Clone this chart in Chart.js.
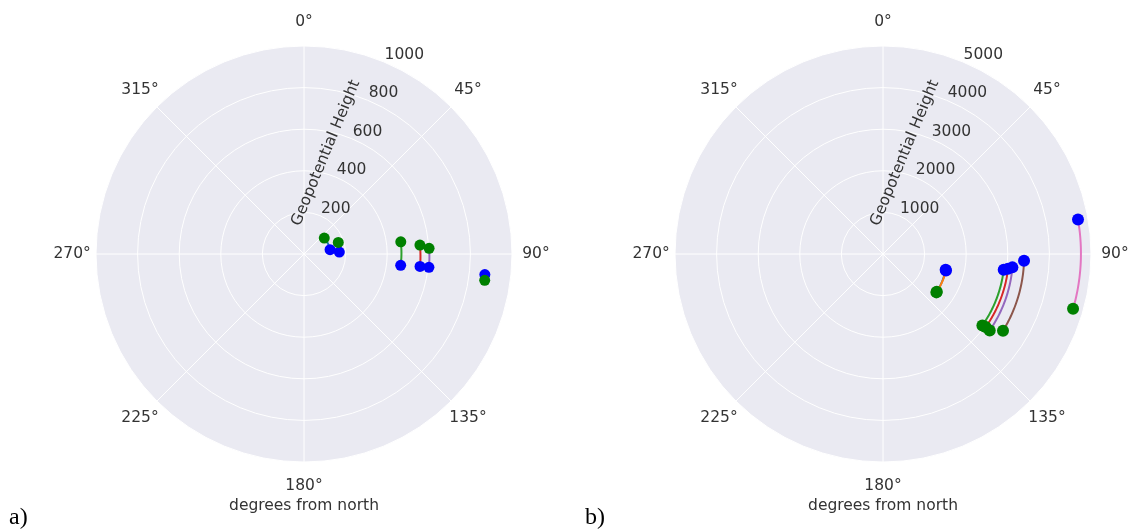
<!DOCTYPE html>
<html>
<head>
<meta charset="utf-8">
<script src="https://cdn.jsdelivr.net/npm/chart.js@4"></script>
<style>
  body { margin: 0; background: #fff; }
  #wrapA { position: absolute; left: 0; top: 0; width: 580px; height: 531px; }
  #wrapB { position: absolute; left: 579px; top: 0; width: 550px; height: 531px; }
</style>
</head>
<body>
<div id="wrapA"><canvas id="chartA"></canvas></div>
<div id="wrapB"><canvas id="chartB"></canvas></div>
<script>
// angle ticks (degrees from north, clockwise)
const angleTicks = [0, 45, 90, 135, 180, 225, 270, 315];
const angleLabels = ['0°', '45°', '90°', '135°', '180°', '225°', '270°', '315°'];

// panel a) : direction (deg) and geopotential height at start (blue) and end (green)
const aDirStart = [80.6, 86.8, 96.7, 96.1, 96.1, 96.5];
const aHgtStart = [127, 170, 468, 561, 604, 875];
const aDirEnd = [51.8, 71.3, 82.8, 85.6, 87.4, 98.3];
const aHgtEnd = [124, 174, 469, 559, 602, 878];
const aRings = [200, 400, 600, 800, 1000];

// panel b)
const bDirStart = [104.1, 104.6, 97.4, 96.7, 95.9, 92.7, 80.0];
const bHgtStart = [1553, 1565, 2926, 3026, 3127, 3394, 4760];
const bDirEnd = [125.7, 125.0, 125.7, 125.4, 125.6, 122.6, 106.1];
const bHgtEnd = [1581, 1578, 2942, 3029, 3155, 3424, 4755];
const bRings = [1000, 2000, 3000, 4000, 5000];

const lineColors = ['#1f77b4', '#ff7f0e', '#2ca02c', '#d62728', '#9467bd', '#8c564b', '#e377c2'];
const textColor = '#333333';

const toXY = (dir, h) => {
    const t = dir * Math.PI / 180;
    return { x: h * Math.sin(t), y: h * Math.cos(t) };
};

const polarFrame = {
    id: 'polarFrame',
    beforeDatasetsDraw(chart, args, opts) {
        const { ctx, scales: { x, y } } = chart;
        const cx = x.getPixelForValue(0), cy = y.getPixelForValue(0);
        const R = x.getPixelForValue(opts.rMax) - cx;
        ctx.save();
        ctx.fillStyle = '#eaeaf2';
        ctx.beginPath(); ctx.arc(cx, cy, R, 0, 2 * Math.PI); ctx.fill();
        ctx.strokeStyle = '#ffffff';
        ctx.lineWidth = 1;
        opts.rings.forEach(v => {
            const r = x.getPixelForValue(v) - cx;
            ctx.beginPath(); ctx.arc(cx, cy, r, 0, 2 * Math.PI); ctx.stroke();
        });
        angleTicks.forEach(a => {
            const p = toXY(a, opts.rMax);
            ctx.beginPath();
            ctx.moveTo(cx, cy);
            ctx.lineTo(x.getPixelForValue(p.x), y.getPixelForValue(p.y));
            ctx.stroke();
        });
        // connecting lines, straight in (direction, height) space
        ctx.beginPath(); ctx.arc(cx, cy, R, 0, 2 * Math.PI); ctx.clip();
        ctx.lineWidth = 2;
        opts.dirStart.forEach((d0, i) => {
            const d1 = opts.dirEnd[i], h0 = opts.hgtStart[i], h1 = opts.hgtEnd[i];
            ctx.strokeStyle = lineColors[i];
            ctx.beginPath();
            for (let k = 0; k <= 40; k++) {
                const t = k / 40;
                const p = toXY(d0 + (d1 - d0) * t, h0 + (h1 - h0) * t);
                const px = x.getPixelForValue(p.x), py = y.getPixelForValue(p.y);
                if (k === 0) ctx.moveTo(px, py); else ctx.lineTo(px, py);
            }
            ctx.stroke();
        });
        ctx.restore();
    },
    afterDraw(chart, args, opts) {
        const { ctx, scales: { x, y } } = chart;
        const cx = x.getPixelForValue(0), cy = y.getPixelForValue(0);
        ctx.save();
        ctx.fillStyle = textColor;
        ctx.font = '15.5px "DejaVu Sans"';
        ctx.textAlign = 'center';
        ctx.textBaseline = 'middle';
        angleTicks.forEach((a, i) => {
            const p = toXY(a, opts.rMax * 1.115);
            ctx.fillText(angleLabels[i], x.getPixelForValue(p.x), y.getPixelForValue(p.y));
        });
        // radial tick labels along 22.5 deg
        ctx.textAlign = 'left';
        ctx.textBaseline = 'alphabetic';
        opts.rings.forEach(v => {
            const p = toXY(22.5, v);
            ctx.fillText(String(v), x.getPixelForValue(p.x) + 1, y.getPixelForValue(p.y) - 3);
        });
        ctx.textAlign = 'center';
        ctx.textBaseline = 'middle';
        ctx.fillText('degrees from north', cx, 506);
        ctx.save();
        ctx.translate(cx + 22, cy - 101);
        ctx.rotate(-67.5 * Math.PI / 180);
        ctx.fillText('Geopotential Height', 0, 0);
        ctx.restore();
        ctx.font = '24px "Liberation Serif"';
        ctx.textAlign = 'left';
        ctx.textBaseline = 'alphabetic';
        ctx.fillStyle = '#000';
        ctx.fillText(opts.panel, opts.panelX, 524);
        ctx.restore();
    }
};

const makeChart = (id, cfg) => {
    const ends = cfg.dirEnd.map((d, i) => toXY(d, cfg.hgtEnd[i]));
    const starts = cfg.dirStart.map((d, i) => toXY(d, cfg.hgtStart[i]));
    const ctx = document.getElementById(id).getContext('2d');
    new Chart(ctx, {
        type: 'scatter',
        data: {
            datasets: [{
                label: 'end',
                data: ends,
                backgroundColor: '#008000',
                borderWidth: 0,
                pointRadius: cfg.markerR,
            }, {
                label: 'start',
                data: starts,
                backgroundColor: '#0000ff',
                borderWidth: 0,
                pointRadius: cfg.markerR,
            }]
        },
        options: {
            responsive: true,
            maintainAspectRatio: false,
            animation: false,
            layout: { padding: cfg.padding },
            scales: {
                x: { type: 'linear', min: -cfg.rMax, max: cfg.rMax, display: false },
                y: { type: 'linear', min: -cfg.rMax, max: cfg.rMax, display: false }
            },
            plugins: {
                legend: { display: false },
                tooltip: { enabled: false },
                polarFrame: cfg
            }
        },
        plugins: [polarFrame]
    });
}

makeChart('chartA', {
    rMax: 1000, rings: aRings,
    dirStart: aDirStart, hgtStart: aHgtStart, dirEnd: aDirEnd, hgtEnd: aHgtEnd,
    markerR: 5.5, panel: 'a)', panelX: 9,
    padding: { left: 96, right: 68, top: 46, bottom: 69 }
});

makeChart('chartB', {
    rMax: 5000, rings: bRings,
    dirStart: bDirStart, hgtStart: bHgtStart, dirEnd: bDirEnd, hgtEnd: bHgtEnd,
    markerR: 6, panel: 'b)', panelX: 6,
    padding: { left: 96, right: 38, top: 46, bottom: 69 }
});
</script>
</body>
</html>
